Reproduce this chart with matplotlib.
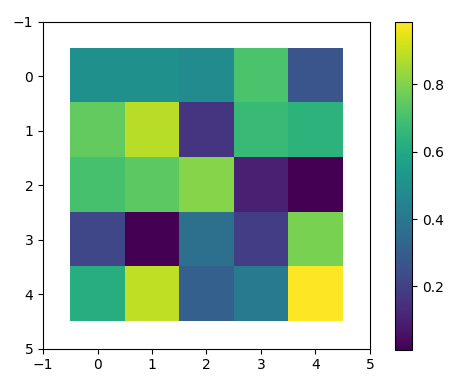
import matplotlib
matplotlib.use("Agg")
import matplotlib.pyplot as plt
import numpy as np

#: cell values (rows top to bottom)
row0 = [0.50, 0.50, 0.48, 0.71, 0.27]
row1 = [0.75, 0.88, 0.16, 0.67, 0.64]
row2 = [0.70, 0.74, 0.81, 0.10, 0.012]
row3 = [0.22, 0.015, 0.37, 0.19, 0.79]
row4 = [0.62, 0.89, 0.31, 0.41, 0.985]
ticks = [-1, 0, 1, 2, 3, 4, 5]

data = np.array([row0, row1, row2, row3, row4])

fig = plt.figure(figsize=(4.63, 3.84), dpi=100)
ax = fig.add_axes([0.093, 0.091, 0.706, 0.854])
cax = fig.add_axes([0.853, 0.089, 0.037, 0.854])

im = ax.imshow(data, cmap="viridis")
ax.set_xlim(-1, 5)
ax.set_ylim(5, -1)
ax.set_xticks(ticks)
ax.set_yticks(ticks)

fig.colorbar(im, cax=cax, ticks=[0.2, 0.4, 0.6, 0.8])

plt.savefig("out.png", dpi=100)
